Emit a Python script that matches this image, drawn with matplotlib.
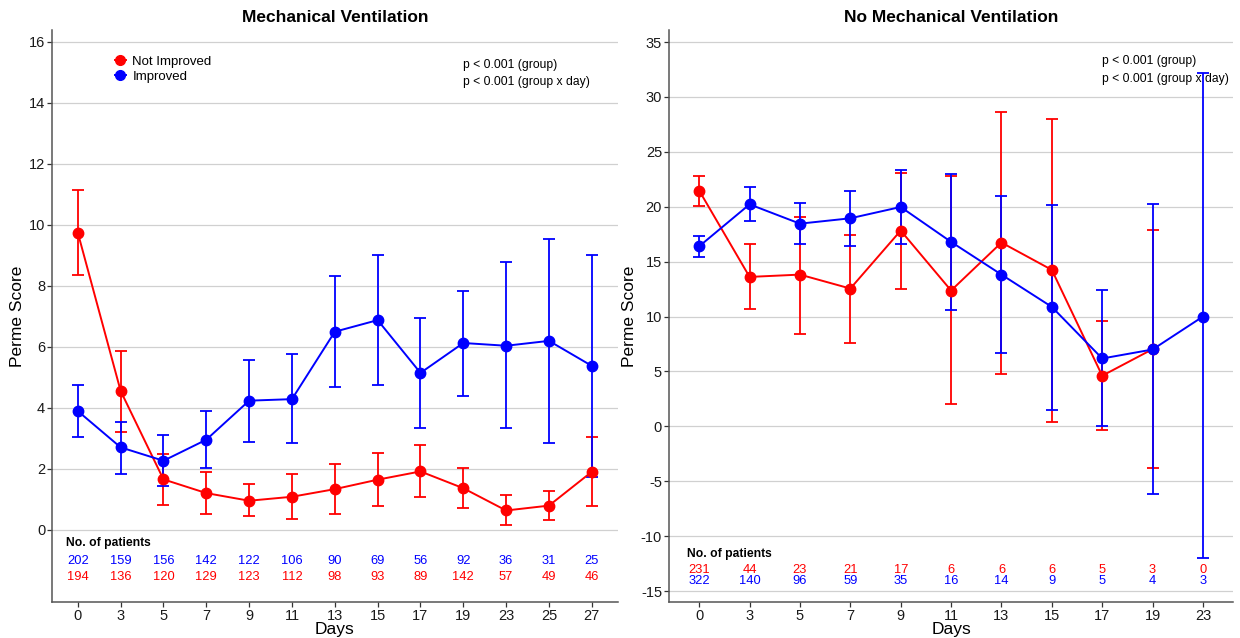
import numpy as np
import matplotlib
matplotlib.use("Agg")
import matplotlib.pyplot as plt
from matplotlib.lines import Line2D

plt.rcParams['font.family'] = ['Liberation Sans', 'DejaVu Sans']
plt.rcParams['axes.unicode_minus'] = False

RED = '#ff0000'
BLUE = '#0000ff'

# ---- Mechanical Ventilation ----
mv_days = ['0', '3', '5', '7', '9', '11', '13', '15', '17', '19', '23', '25', '27']
mv_red = [9.74, 4.55, 1.65, 1.20, 0.95, 1.08, 1.33, 1.64, 1.91, 1.36, 0.63, 0.79, 1.90]
mv_red_lo = [8.34, 3.19, 0.80, 0.50, 0.44, 0.35, 0.51, 0.78, 1.06, 0.72, 0.16, 0.33, 0.79]
mv_red_hi = [11.15, 5.86, 2.48, 1.89, 1.49, 1.84, 2.17, 2.52, 2.78, 2.01, 1.15, 1.27, 3.04]
mv_blue = [3.89, 2.70, 2.26, 2.95, 4.23, 4.28, 6.49, 6.87, 5.14, 6.12, 6.03, 6.19, 5.37]
mv_blue_lo = [3.04, 1.84, 1.43, 2.02, 2.89, 2.84, 4.68, 4.75, 3.33, 4.39, 3.33, 2.84, 1.73]
mv_blue_hi = [4.73, 3.54, 3.09, 3.88, 5.57, 5.75, 8.33, 9.00, 6.95, 7.84, 8.78, 9.52, 9.00]
mv_n_blue = [202, 159, 156, 142, 122, 106, 90, 69, 56, 92, 36, 31, 25]
mv_n_red = [194, 136, 120, 129, 123, 112, 98, 93, 89, 142, 57, 49, 46]

# ---- No Mechanical Ventilation ----
nmv_days = ['0', '3', '5', '7', '9', '11', '13', '15', '17', '19', '23']
nmv_red = [21.47, 13.61, 13.82, 12.55, 17.83, 12.37, 16.74, 14.25, 4.61, 7.03, np.nan]
nmv_red_lo = [20.10, 10.67, 8.45, 7.61, 12.55, 2.00, 4.73, 0.42, -0.36, -3.82, np.nan]
nmv_red_hi = [22.80, 16.58, 19.04, 17.43, 23.11, 22.80, 28.63, 27.99, 9.64, 17.92, np.nan]
nmv_blue = [16.40, 20.22, 18.46, 18.95, 19.98, 16.80, 13.82, 10.88, 6.18, 7.00, 10.00]
nmv_blue_lo = [15.46, 18.68, 16.58, 16.40, 16.61, 10.58, 6.67, 1.52, 0.00, -6.12, -12.00]
nmv_blue_hi = [17.37, 21.80, 20.38, 21.47, 23.38, 22.99, 20.98, 20.16, 12.43, 20.25, 32.15]
nmv_n_red = [231, 44, 23, 21, 17, 6, 6, 6, 5, 3, 0]
nmv_n_blue = [322, 140, 96, 59, 35, 16, 14, 9, 5, 4, 3]


def draw_group(ax, mean, lo, hi, color):
    x = np.arange(len(mean))
    mean = np.array(mean, dtype=float)
    yerr = [mean - np.array(lo, dtype=float), np.array(hi, dtype=float) - mean]
    ax.errorbar(x, mean, yerr=yerr, fmt='none', ecolor=color, elinewidth=1.3,
                capsize=4.2, capthick=1.3, zorder=3)
    ax.plot(x, mean, color=color, lw=1.4, marker='o', ms=7.5, zorder=4)


def style_axes(ax, days, ylim, yticks):
    ax.set_xlim(-0.6, len(days) - 0.4)
    ax.set_ylim(*ylim)
    ax.set_xticks(np.arange(len(days)))
    ax.set_xticklabels(days)
    ax.set_yticks(yticks)
    ax.tick_params(axis='both', labelsize=10.5, colors='#333333', length=3.5,
                   width=0.9, labelcolor='#1a1a1a', pad=1.5)
    for s in ['top', 'right']:
        ax.spines[s].set_visible(False)
    for s in ['left', 'bottom']:
        ax.spines[s].set_color('#555555')
        ax.spines[s].set_linewidth(1.1)
    ax.grid(axis='y', color='#d0d0d0', lw=0.9)
    ax.set_axisbelow(True)
    ax.set_xlabel('Days', fontsize=12.5, labelpad=-1)
    ax.set_ylabel('Perme Score', fontsize=12.5, labelpad=3)


fig = plt.figure(figsize=(12.4, 6.38), dpi=100)
ax1 = fig.add_axes([0.042, 0.0564, 0.456, 0.8966])
ax2 = fig.add_axes([0.5395, 0.0564, 0.455, 0.8966])

# left panel
draw_group(ax1, mv_red, mv_red_lo, mv_red_hi, RED)
draw_group(ax1, mv_blue, mv_blue_lo, mv_blue_hi, BLUE)
style_axes(ax1, mv_days, (-2.37, 16.38), np.arange(0, 17, 2))
ax1.set_title('Mechanical Ventilation', fontsize=12.5, fontweight='bold', pad=6)
ax1.text(-0.28, -0.43, 'No. of patients', fontsize=8.7, fontweight='bold', va='center')
for i in range(len(mv_days)):
    ax1.text(i, -1.03, str(mv_n_blue[i]), color=BLUE, fontsize=9.3, ha='center', va='center')
    ax1.text(i, -1.54, str(mv_n_red[i]), color=RED, fontsize=9.3, ha='center', va='center')
ax1.text(9.0, 15.23, 'p < 0.001 (group)', fontsize=8.7, va='center')
ax1.text(9.0, 14.67, 'p < 0.001 (group x day)', fontsize=8.7, va='center')
handles = [Line2D([], [], color=RED, marker='o', ms=7, lw=1.4),
           Line2D([], [], color=BLUE, marker='o', ms=7, lw=1.4)]
ax1.legend(handles, ['Not Improved', 'Improved'], loc='upper left',
           bbox_to_anchor=(0.1, 0.967), frameon=False, fontsize=9.5,
           handlelength=0.8, handletextpad=0.5, labelspacing=0.2, borderpad=0)

# right panel
draw_group(ax2, nmv_red, nmv_red_lo, nmv_red_hi, RED)
draw_group(ax2, nmv_blue, nmv_blue_lo, nmv_blue_hi, BLUE)
style_axes(ax2, nmv_days, (-16.0, 36.1), np.arange(-15, 36, 5))
ax2.set_title('No Mechanical Ventilation', fontsize=12.5, fontweight='bold', pad=6)
ax2.text(-0.24, -11.6, 'No. of patients', fontsize=8.7, fontweight='bold', va='center')
for i in range(len(nmv_days)):
    ax2.text(i, -13.09, str(nmv_n_red[i]), color=RED, fontsize=9.3, ha='center', va='center')
    ax2.text(i, -14.09, str(nmv_n_blue[i]), color=BLUE, fontsize=9.3, ha='center', va='center')
ax2.text(8.0, 33.24, 'p < 0.001 (group)', fontsize=8.7, va='center')
ax2.text(8.0, 31.6, 'p < 0.001 (group x day)', fontsize=8.7, va='center')

fig.savefig('out.png', dpi=100)
